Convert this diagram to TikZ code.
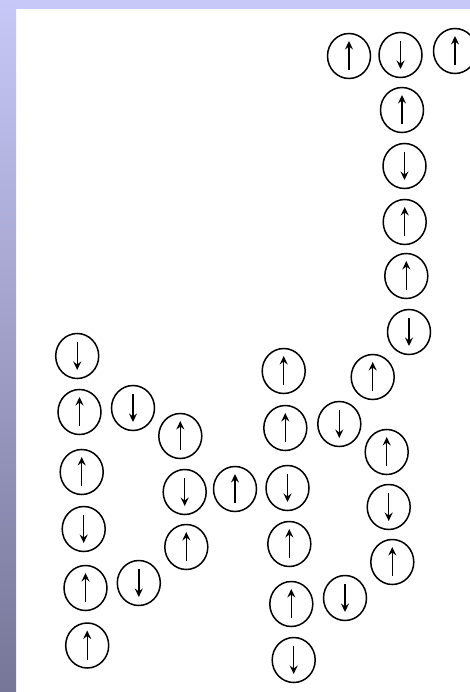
\documentclass[tikz,border=0pt]{standalone}
\usetikzlibrary{shapes.geometric,arrows.meta}
\definecolor{bandtop}{RGB}{200,200,248}
\definecolor{bandbot}{RGB}{118,118,152}
\tikzset{
  spin/.style={ellipse,draw=black,line width=1.5pt,minimum width=43pt,minimum height=45pt,inner sep=0pt,fill=white},
  spinarrow/.style={line width=1.4pt,-{Stealth[length=8.5pt,width=8pt,inset=3pt]}},
  up/.style={spin,path picture={\draw[spinarrow]
      ([yshift=-14pt]path picture bounding box.center) -- ([yshift=15pt]path picture bounding box.center);}},
  dn/.style={spin,path picture={\draw[spinarrow]
      ([yshift=14pt]path picture bounding box.center) -- ([yshift=-14pt]path picture bounding box.center);}}
}
\begin{document}
\begin{tikzpicture}[x=1pt,y=-1pt]
\useasboundingbox (0,0) rectangle (470,692);
\fill[white] (0,0) rectangle (470,692);
\fill[bandtop] (0,0) rectangle (470,9);
\shade[top color=bandtop,bottom color=bandbot] (0,0) rectangle (16,692);
% top row
\node[up] (t1) at (349,56) {};
\node[dn] (t2) at (400.5,55) {};
\node[up] (t3) at (455,51) {};
% right column
\node[up] (r1) at (402,110) {};
\node[dn] (r2) at (404.5,166) {};
\node[up] (r3) at (404.7,222) {};
\node[up] (r4) at (406.3,276) {};
\node[dn] (r5) at (409,332) {};
\node[up] (r6) at (372.7,377) {};
% middle column
\node[up] (m1) at (283.7,371) {};
\node[up] (m2) at (285.3,428) {};
\node[dn] (m3) at (287.5,488) {};
\node[up] (m4) at (289.3,544) {};
\node[up] (m5) at (291.3,604) {};
\node[dn] (m6) at (293.7,660) {};
\node[dn] (n1) at (339.3,424) {};
\node[up] (n2) at (386.7,452) {};
\node[dn] (n3) at (388.7,507) {};
\node[up] (n4) at (392.3,562) {};
\node[dn] (n5) at (345,598) {};
% left column
\node[dn] (l1) at (77.2,356) {};
\node[up] (l2) at (79.5,412) {};
\node[up] (l3) at (81.7,472) {};
\node[dn] (l4) at (83.7,529) {};
\node[up] (l5) at (85.5,588) {};
\node[up] (l6) at (87.2,645.5) {};
\node[dn] (k1) at (133,408) {};
\node[up] (k2) at (180.3,436) {};
\node[dn] (k3) at (184.7,492) {};
\node[up] (k4) at (186.3,547) {};
\node[dn] (k5) at (138.8,583) {};
\node[up] (k6) at (235,489) {};
\end{tikzpicture}
\end{document}
